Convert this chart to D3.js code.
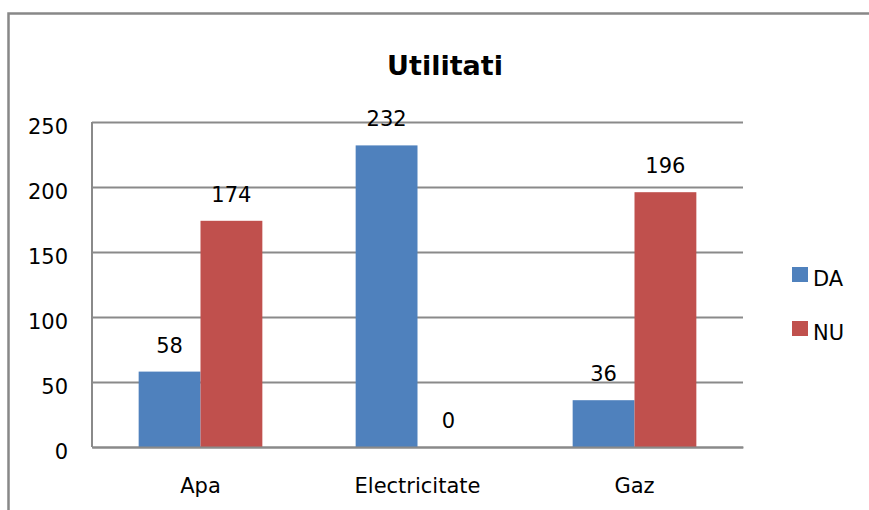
<!DOCTYPE html>
<html>
<head>
<meta charset="utf-8">
<script src="https://cdn.jsdelivr.net/npm/d3@7"></script>
<style>
  body { margin: 0; background: #fff; }
  text { font-family: "DejaVu Sans", sans-serif; fill: #000; }
</style>
</head>
<body>
<div id="chart"></div>
<script>
// chart data
var categories = ["Apa", "Electricitate", "Gaz"];
var seriesNames = ["DA", "NU"];
var daValues = [58, 232, 36];
var nuValues = [174, 0, 196];
var yTicks = [0, 50, 100, 150, 200, 250];
var colors = ["#4F81BD", "#C0504D"];

var W = 869, H = 510;
var margin = { top: 122, left: 92, right: 126, bottom: 63 };
var width = W - margin.left - margin.right,
    height = H - margin.top - margin.bottom;

var svg = d3.select("#chart")
    .append("svg")
    .attr("width", W)
    .attr("height", H);

// outer chart border (runs off the right and bottom edge)
svg.append("rect")
    .attr("x", 8.5)
    .attr("y", 13.5)
    .attr("width", 900)
    .attr("height", 540)
    .attr("fill", "none")
    .attr("stroke", "#888")
    .attr("stroke-width", 2.5);

svg.append("text")
    .attr("x", 445)
    .attr("y", 75)
    .attr("text-anchor", "middle")
    .style("font-size", "27px")
    .style("font-weight", "bold")
    .text("Utilitati");

var g = svg.append("g")
    .attr("transform", "translate(" + margin.left + "," + margin.top + ")");

var x0 = d3.scaleBand()
    .domain(categories)
    .range([0, width])
    .paddingInner(0.43)
    .paddingOuter(0.215);

var x1 = d3.scaleBand()
    .domain(seriesNames)
    .range([0, x0.bandwidth()])
    .padding(0);

var y = d3.scaleLinear()
    .domain([0, 250])
    .range([height, 0]);

// gridlines + y labels
var yAxis = g.append("g")
    .call(d3.axisLeft(y).tickValues(yTicks).tickSize(-width).tickPadding(24));
yAxis.select(".domain").remove();
yAxis.selectAll("line")
    .attr("stroke", "#8a8a8a")
    .attr("stroke-width", 2);
yAxis.selectAll("text")
    .attr("dy", null)
    .attr("y", 11.5)
    .style("font-size", "21px");

// left axis line
g.append("line")
    .attr("x1", 0).attr("x2", 0)
    .attr("y1", 0).attr("y2", height)
    .attr("stroke", "#8a8a8a")
    .attr("stroke-width", 2);

var rows = categories.map(function(c, i) {
    return { cat: c, values: [daValues[i], nuValues[i]] };
});

var groups = g.selectAll(".grp")
    .data(rows)
    .enter()
    .append("g")
    .attr("class", "grp")
    .attr("transform", function(d) { return "translate(" + x0(d.cat) + ",0)"; });

groups.selectAll("rect")
    .data(function(d) { return d.values; })
    .enter()
    .append("rect")
    .attr("x", function(d, i) { return x1(seriesNames[i]); })
    .attr("y", function(d) { return y(d); })
    .attr("width", x1.bandwidth())
    .attr("height", function(d) { return height - y(d); })
    .attr("fill", function(d, i) { return colors[i]; });

groups.selectAll(".val")
    .data(function(d) { return d.values; })
    .enter()
    .append("text")
    .attr("class", "val")
    .attr("x", function(d, i) { return x1(seriesNames[i]) + x1.bandwidth() / 2; })
    .attr("y", function(d) { return y(d) - 19; })
    .attr("text-anchor", "middle")
    .style("font-size", "21px")
    .text(function(d) { return d; });

// x axis
var xAxis = g.append("g")
    .attr("transform", "translate(0," + height + ")")
    .call(d3.axisBottom(x0).tickSize(0).tickPadding(0));
xAxis.select(".domain")
    .attr("stroke", "#8a8a8a")
    .attr("stroke-width", 2);
xAxis.selectAll("text")
    .attr("dy", null)
    .attr("y", 46)
    .style("font-size", "21px");

// legend
var legend = svg.append("g")
    .attr("transform", "translate(792,267)");
var items = legend.selectAll(".item")
    .data(seriesNames)
    .enter()
    .append("g")
    .attr("transform", function(d, i) { return "translate(0," + (i * 54) + ")"; });
items.append("rect")
    .attr("width", 16)
    .attr("height", 15)
    .attr("fill", function(d, i) { return colors[i]; });
items.append("text")
    .attr("x", 21)
    .attr("y", 19)
    .style("font-size", "21px")
    .text(function(d) { return d; });
</script>
</body>
</html>
